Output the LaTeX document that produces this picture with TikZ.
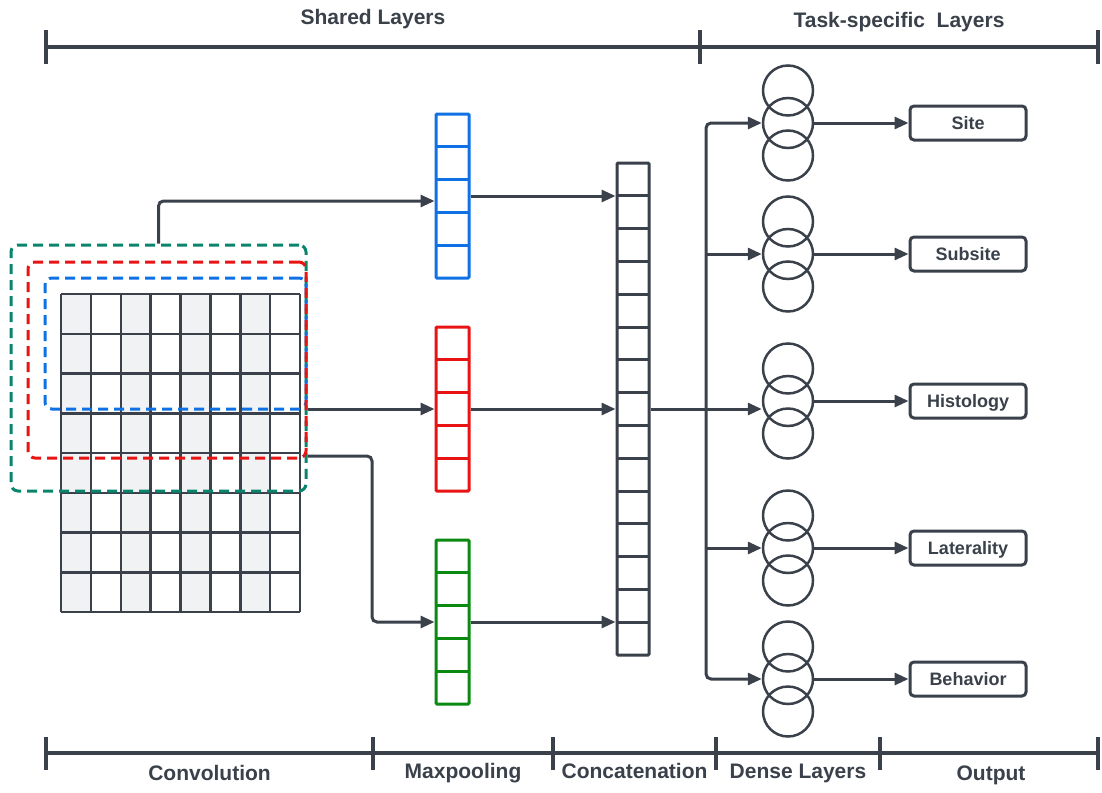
\documentclass[tikz,border=0pt]{standalone}
\usepackage{fontspec}
\setmainfont{Liberation Sans}
\usetikzlibrary{arrows.meta,calc}
\definecolor{ink}{HTML}{3A414A}
\definecolor{cblue}{HTML}{1071E5}
\definecolor{cred}{HTML}{E81313}
\definecolor{cgreen}{HTML}{0B8A12}
\definecolor{cteal}{HTML}{0A856D}
\definecolor{cgray}{HTML}{F1F2F4}
\begin{document}
\begin{tikzpicture}[x=1pt,y=-1pt,
  bar/.style={draw=ink, line width=3.5pt},
  conn/.style={draw=ink, line width=3pt, -{Triangle[length=14pt,width=12pt]}, rounded corners=5pt},
  hdr/.style={font=\bfseries\fontsize{21}{24}\selectfont, text=ink, inner sep=0},
  col/.style={draw=#1, line width=3pt, minimum width=33pt, minimum height=164pt, inner sep=0, rounded corners=1pt},
  dashbox/.style={draw=#1, line width=3pt, dash pattern=on 10pt off 6pt, rounded corners=7pt, inner sep=0},
  neuron/.style={circle, draw=ink, line width=2.5pt, minimum size=50pt, inner sep=0},
  outbox/.style={draw=ink, line width=3pt, rounded corners=4pt, minimum width=116pt, minimum height=34pt, font=\bfseries\fontsize{18}{20}\selectfont, text=ink, inner sep=0, text height=13pt, text depth=0pt},
  gridline/.style={draw=ink, line width=2.5pt},
]
\useasboundingbox (0,0) rectangle (1102,792);
\fill[white] (0,0) rectangle (1102,792);

% ---- header bars ----
\draw[bar] (46,47) -- (1098,47);
\foreach \x in {46,700,1098} \draw[bar] (\x,30) -- (\x,64);
\node[hdr] (shared) at (373,19) {Shared Layers};
\node[hdr] (task) at (899,22) {Task-specific\ \ Layers};

% ---- bottom bars ----
\draw[bar] (46,753) -- (1098,753);
\foreach \x in {46,373,553,716,880,1098} \draw[bar] (\x,737) -- (\x,770);
\node[hdr] (lconv) at (209.5,773) {Convolution};
\node[hdr] (lmax) at (463,773) {Maxpooling};
\node[hdr] (lcat) at (634.5,771) {Concatenation};
\node[hdr] (ldense) at (798,773) {Dense Layers};
\node[hdr] (lout) at (991,775) {Output};

% ---- input grid ----
\foreach \i in {0,2,4,6} \fill[cgray] (61+29.875*\i,294) rectangle ++(29.875,318);
\foreach \i in {0,...,8} \draw[gridline] (61+29.875*\i,294) -- ++(0,318);
\foreach \j in {0,...,8} \draw[gridline] (61,294+39.75*\j) -- ++(239,0);

% ---- dashed filter windows ----
\node[dashbox=cteal, minimum width=295pt, minimum height=246pt] (gd) at (158.5,368) {};
\node[dashbox=cblue, minimum width=261pt, minimum height=131pt] (bd) at (175.5,343.5) {};
\node[dashbox=cred, minimum width=278pt, minimum height=196pt] (rd) at (167,360) {};

% ---- maxpooling columns ----
\node[col=cblue] (bluecol) at (452.5,196) {};
\node[col=cred] (redcol) at (452.5,409) {};
\node[col=cgreen] (greencol) at (452.5,622) {};
\foreach \cy/\c in {196/cblue,409/cred,622/cgreen}
  \foreach \k in {1,...,4}
    \draw[\c, line width=3pt] (436,\cy-82+32.8*\k) -- (469,\cy-82+32.8*\k);

% ---- concatenation column ----
\node[col=ink, minimum width=32pt, minimum height=492pt] (cat) at (633,409) {};
\foreach \k in {1,...,14} \draw[ink, line width=3pt] (617,163+32.8*\k) -- (649,163+32.8*\k);

% ---- connectors conv -> pooling ----
\draw[conn] (gd.north) |- ([yshift=-5pt]bluecol.west);
\draw[conn] (bd.east |- redcol.west) -- (redcol.west);
\coordinate (bend) at (372,456);
\draw[conn] (rd.east |- bend) -- (bend) |- (greencol.west);

% ---- pooling -> concat ----
\draw[conn] (bluecol.east) -- (bluecol.east -| cat.west);
\draw[conn] (redcol.east) -- (redcol.east -| cat.west);
\draw[conn] (greencol.east) -- (greencol.east -| cat.west);

% ---- dense layers and outputs ----
\foreach \n/\m/\t in {1/123/Site,2/254/Subsite,3/401/Histology,4/548/Laterality,5/679/Behavior}{
  \node[neuron] (d\n a) at (788,\m-32.5) {};
  \node[neuron] (d\n b) at (788,\m) {};
  \node[neuron] (d\n c) at (788,\m+32.5) {};
  \node[outbox] (o\n) at (968,\m) {\t};
  \draw[conn] (d\n b.east) -- (o\n.west);
}

% ---- concat -> dense (junction) ----
\coordinate (J) at (706,409);
\draw[conn] (cat.east) -- (d3b.west |- cat.east);
\draw[conn] (J) |- (d1b.west);
\draw[conn] (J) |- (d5b.west);
\draw[conn] (J |- d2b.west) -- (d2b.west);
\draw[conn] (J |- d4b.west) -- (d4b.west);
\end{tikzpicture}
\end{document}
